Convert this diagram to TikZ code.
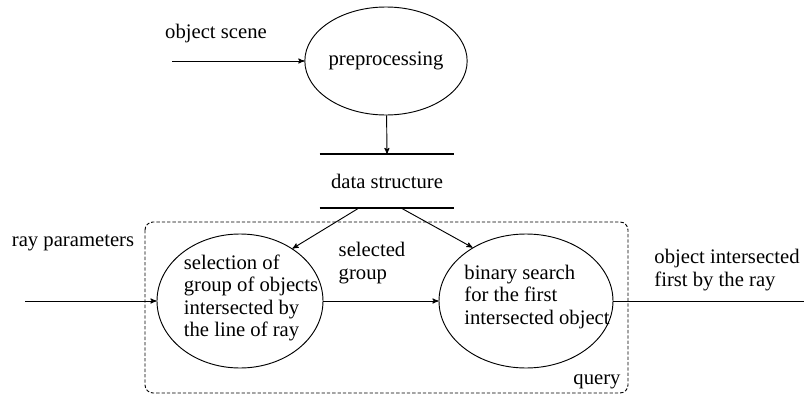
\documentclass[tikz,border=0pt]{standalone}
\usepackage{fontspec}
\newfontfamily\figfont{Liberation Serif}
\usetikzlibrary{arrows,shapes.geometric,positioning,calc}

\begin{document}
\begin{tikzpicture}[->, >=stealth', x=0.75pt, y=-0.75pt, line width=0.7pt]
\tikzstyle{every node}=[font=\figfont\fontsize{15.5}{16.9}\selectfont]
\tikzstyle{proc}=[ellipse,draw,inner sep=0pt]
\tikzstyle{txt}=[align=left,inner sep=0pt]
\useasboundingbox (0,0) rectangle (804,396);
% preprocessing stage
\node[proc,minimum width=120pt,minimum height=81pt] (pre) at (386,61) {preprocessing};
\node[txt]    (scene)   at (216,34)  {object scene};
\coordinate   (scenein) at (172,61);
\node[minimum width=100.5pt,minimum height=39.75pt,inner sep=0pt] (ds) at (387,181) {data structure};
% query stage
\node[proc,minimum width=124.5pt,minimum height=100.5pt] (sel) at (240,301) {};
\node[txt]    (seltext) at (251,298) {selection of\\group of objects\\intersected by\\the line of ray};
\node[proc,minimum width=130.5pt,minimum height=100.5pt] (bin) at (526,301) {};
\node[txt]    (bintext) at (537,297) {binary search\\for the first\\intersected object};
\node[txt]    (ray)     at (73,243)  {ray parameters};
\coordinate   (rayin)   at (25,301);
\node[txt]    (selgrp)  at (372,263) {selected\\group};
\node[txt]    (hit)     at (727,270) {object intersected\\first by the ray};
\coordinate   (rayout)  at (804,301);
\node[txt]    (query)   at (597,382) {query};
\draw[-,dash pattern=on 2.5pt off 1.5pt,rounded corners=6pt] (145,222) rectangle (628,393);
\draw[-,line width=1.1pt] (ds.north west) -- (ds.north east)
                          (ds.south west) -- (ds.south east);
\path
(scenein) edge (pre)
(pre)     edge (ds.north)
($(ds.south)+(-28,0)$) edge (sel.45)
($(ds.south)+(14,0)$)  edge (bin.135)
(rayin)   edge (sel)
(sel)     edge (bin)
(bin)     edge[-] (rayout);
\end{tikzpicture}
\end{document}
